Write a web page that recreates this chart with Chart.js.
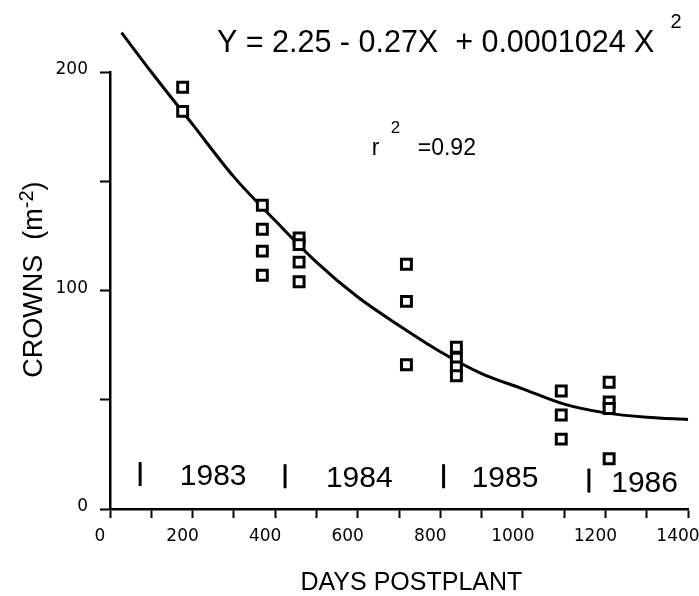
<!DOCTYPE html>
<html>
<head>
<meta charset="utf-8">
<title>Crowns vs days postplant</title>
<script src="https://cdn.jsdelivr.net/npm/chart.js@4.4.1/dist/chart.umd.min.js"></script>
<style>
  body { margin: 0; background: #fff; }
  #wrap { width: 699px; height: 596px; }
</style>
</head>
<body>
<div id="wrap"><canvas id="crownsCanvas"></canvas></div>
<script>
// sampled stands: days after planting and crowns per m2
const sampleDays = [176, 176, 369, 369, 369, 369, 458, 458, 458, 458, 718, 718, 718,
                    839, 839, 839, 839, 1093, 1093, 1093, 1209, 1209, 1209, 1209];
const sampleCrowns = [193, 182, 139, 128, 118, 107, 124, 121, 113, 104, 112, 95, 66,
                      74, 69, 65, 61, 54, 43, 32, 58, 49, 46, 23];

// regression curve
const fitDays = [28, 100, 200, 300, 400, 500, 600, 700, 800, 900, 1000, 1100, 1200, 1300, 1400];
const fitCrowns = [218, 200, 176, 152, 132, 113, 97, 84, 72, 62, 55, 48, 44, 42, 41];

const xTicks = [0, 200, 400, 600, 800, 1000, 1200, 1400];
const yTicks = [0, 100, 200];

// growing seasons
const years = ["1983", "1984", "1985", "1986"];
const yearStartDays = [73, 424, 808, 1160];
const yearTextDays = [169, 523, 876, 1214];
const yearTextLevel = [11, 10, 10, 8];

const sans = "'Liberation Sans', Arial, sans-serif";
const tickFont = { family: "'DejaVu Sans', sans-serif", size: 17 };

const annotations = {
  id: "annotations",
  afterDraw(chart) {
    const ctx = chart.ctx;
    const x = chart.scales.x;
    const y = chart.scales.y;
    ctx.save();
    ctx.fillStyle = "#000";
    ctx.strokeStyle = "#000";
    ctx.textAlign = "left";
    ctx.textBaseline = "alphabetic";

    // equation
    const eq = "Y = 2.25 - 0.27X  + 0.0001024 X";
    const ex = x.getPixelForValue(259);
    const ey = y.getPixelForValue(209.3);
    ctx.font = "30.5px " + sans;
    ctx.fillText(eq, ex, ey);
    const ew = ctx.measureText(eq).width;
    ctx.font = "20px " + sans;
    ctx.fillText("2", ex + ew + 16, ey - 24);

    // r squared
    const rx = x.getPixelForValue(634);
    const ry = y.getPixelForValue(162);
    ctx.font = "23px " + sans;
    ctx.fillText("r", rx, ry);
    ctx.fillText("=0.92", rx + 46, ry);
    ctx.font = "17px " + sans;
    ctx.fillText("2", rx + 19, ry - 22);

    // season markers
    ctx.font = "30px " + sans;
    ctx.lineWidth = 3;
    years.forEach((yr, i) => {
      const bx = x.getPixelForValue(yearStartDays[i]);
      ctx.beginPath();
      ctx.moveTo(bx, y.getPixelForValue(yearTextLevel[i] - 0.5));
      ctx.lineTo(bx, y.getPixelForValue(yearTextLevel[i] + 10.5));
      ctx.stroke();
      ctx.fillText(yr, x.getPixelForValue(yearTextDays[i]), y.getPixelForValue(yearTextLevel[i]));
    });

    // x axis title
    ctx.font = "25px " + sans;
    ctx.textAlign = "center";
    ctx.fillText("DAYS POSTPLANT", x.getPixelForValue(730), 590);

    // y axis title with superscript
    const main = "CROWNS  (m";
    ctx.font = "27px " + sans;
    const w1 = ctx.measureText(main).width;
    const w3 = ctx.measureText(")").width;
    ctx.font = "20px " + sans;
    const w2 = ctx.measureText("-2").width;
    const total = w1 + w2 + w3;
    ctx.translate(42, y.getPixelForValue(105));
    ctx.rotate(-Math.PI / 2);
    ctx.textAlign = "left";
    let pos = -total / 2;
    ctx.font = "27px " + sans;
    ctx.fillText(main, pos, 0);
    pos += w1;
    ctx.font = "20px " + sans;
    ctx.fillText("-2", pos, -9);
    pos += w2;
    ctx.font = "27px " + sans;
    ctx.fillText(")", pos, 0);

    ctx.restore();
  }
};

new Chart(document.getElementById("crownsCanvas"), {
  type: "scatter",
  data: {
    datasets: [
      {
        label: "Crowns",
        data: sampleDays.map((d, i) => ({ x: d, y: sampleCrowns[i] })),
        pointStyle: "rect",
        pointRadius: 7,
        borderWidth: 3,
        borderColor: "#000",
        backgroundColor: "#fff",
        clip: false
      },
      {
        type: "line",
        label: "Fit",
        data: fitDays.map((d, i) => ({ x: d, y: fitCrowns[i] })),
        borderColor: "#000",
        borderWidth: 3,
        pointRadius: 0,
        fill: false,
        tension: 0.4,
        cubicInterpolationMode: "monotone",
        clip: false
      }
    ]
  },
  options: {
    responsive: true,
    maintainAspectRatio: false,
    animation: false,
    layout: { padding: { top: 72, right: 11, left: 0, bottom: 0 } },
    plugins: {
      legend: { display: false },
      tooltip: { enabled: false }
    },
    scales: {
      x: {
        type: "linear",
        min: 0,
        max: 1400,
        afterFit(scale) {
          scale.height = 87;
          scale.paddingLeft = 0;
          scale.paddingRight = 0;
        },
        border: { color: "#000", width: 2.5 },
        grid: { drawOnChartArea: false, color: "#000", tickLength: 9, tickWidth: 2 },
        ticks: {
          stepSize: 100,
          autoSkip: false,
          maxRotation: 0,
          padding: 8,
          labelOffset: -10,
          color: "#000",
          font: tickFont,
          callback: v => (xTicks.includes(v) ? String(v) : "")
        }
      },
      y: {
        type: "linear",
        min: 0,
        max: 200,
        afterFit(scale) {
          scale.width = 110;
        },
        border: { color: "#000", width: 2.5 },
        grid: { drawOnChartArea: false, color: "#000", tickLength: 10, tickWidth: 2 },
        ticks: {
          stepSize: 50,
          autoSkip: false,
          padding: 12,
          labelOffset: -2,
          color: "#000",
          font: tickFont,
          callback: v => (yTicks.includes(v) ? String(v) : "")
        }
      }
    }
  },
  plugins: [annotations]
});
</script>
</body>
</html>
